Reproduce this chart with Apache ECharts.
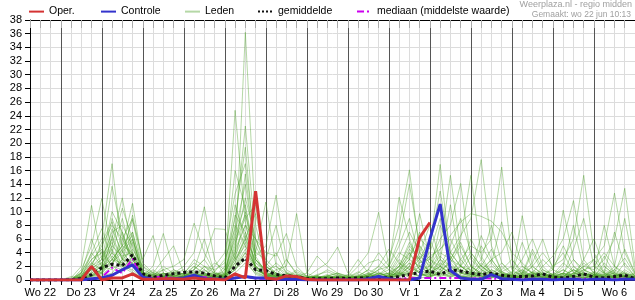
<!DOCTYPE html>
<html><head><meta charset="utf-8">
<script src="https://cdn.jsdelivr.net/npm/echarts@6/dist/echarts.min.js"></script>
<style>html,body{margin:0;padding:0;background:#fff}#c{width:635px;height:300px}</style>
</head><body><div id="c"></div>
<script>
// Days (label shown at noon), 6-hourly slots from Wo 22 06u to Do 7 00u
const dayLabels = ['Wo 22','Do 23','Vr 24','Za 25','Zo 26','Ma 27','Di 28','Wo 29','Do 30','Vr 1','Za 2','Zo 3','Ma 4','Di 5','Wo 6','Do 7'];
const slotHours = ['00u','06u','12u','18u'];
const yTicks = [0,38,2];

// Operationeel (ends Za 2 00u)
const oper = [0,0,0, 0,0,0,2.0, 0,0.3,0.3,0.9, 0.1,0.1,0.2,0.2, 0.1,0.3,0.1,0.1, 0,0.9,0.3,13.0, 0.3,0.1,0.6,0.5, 0.1,0,0,0, 0,0,0,0, 0,0,0,6.2, 8.4];
// Controle run
const controle = [0,0,0, 0,0,0,0.2, 0.3,0.7,1.5,2.2, 0.4,0.1,0.1,0.2, 0.3,0.7,0.2,0.1, 0.1,0.3,0.5,0.3, 0.3,0.1,0.1,0.1, 0,0,0,0, 0,0,0.2,0.5, 0.2,0,0,0.3, 6.0,11.1,1.4,0.3, 0.1,0.1,0.8,0.2, 0.1,0,0.1,0.1, 0,0.1,0.1,0, 0.1,0.1,0,0.1, 0.1];
// Gemiddelde
const gemiddelde = [0,0,0, 0,0.05,0.2,0.8, 1.8,2.3,2.1,3.7, 0.9,0.4,0.7,0.9, 1.1,1.2,1.0,0.6, 0.3,2.0,3.2,1.5, 1.4,0.8,0.6,0.5, 0.2,0.2,0.2,0.3, 0.2,0.3,0.3,0.4, 0.3,0.5,0.8,1.1, 1.3,0.8,1.5,1.3, 1.0,0.8,1.0,0.7, 0.5,0.5,0.6,0.9, 0.4,0.3,0.5,0.9, 0.4,0.3,0.5,0.7, 0.2];
// Mediaan
const mediaan = [0,0,0, 0,0,0,0.1, 0.4,1.8,1.0,3.1, 0.2,0.4,0.5,0.3, 0.3,0.4,0.4,0.2, 0.1,0.3,0.5,0.2, 0.2,0.1,0.1,0.1, 0,0.1,0,0.1, 0.1,0.1,0.1,0.1, 0.1,0.2,0.3,0.3, 0.3,0.3,0.3,0.3, 0.2,0.3,0.2,0.2, 0.1,0.2,0.2,0.2, 0.1,0.2,0.2,0.2, 0.1,0.2,0.2,0.2, 0.1];

// Ensemble leden
const lid01 = [0,0,0, 0,0,1.2,3.5, 6.0,17.0,4.2,2.0, 0.3,0,0.5,1.2, 0.8,2.0,1.0,0.2, 0,3.5,36.2,8.0, 2.0,1.0,0.3,0, 0,0,0.2,0.5, 0,0,0.3,1.0, 0.5,2.0,4.0,1.5, 0.6,3.0,2.0,0.5, 0.2,1.0,2.5,0.8, 0.3,0,0.5,1.2, 0.4,0.2,0.8,1.5, 0.3,0.5,2.0,1.0, 0.3];
const lid02 = [0,0,0, 0,0.3,2.0,10.9, 3.0,5.5,2.0,1.0, 0.2,0.5,1.0,0.3, 0.5,1.5,3.0,0.8, 1.2,24.8,8.5,1.5, 0.8,0.5,0.2,0.4, 0.1,0.3,0.8,0.2, 0.1,0.5,1.0,0.3, 0.2,1.5,3.5,6.0, 4.5,16.9,3.0,1.2, 0.8,2.2,0.6,0.3, 0.5,1.0,0.4,0.2, 0.8,2.5,1.2,0.4, 0.2,0.6,1.5,3.2, 0.8];
const lid03 = [0,0,0, 0,0,0.8,2.5, 4.0,13.7,6.5,3.0, 0.4,1.0,0.3,0.6, 1.0,0.5,2.0,1.5, 2.5,9.0,19.4,3.0, 1.5,2.0,0.6,0.3, 0.2,0.5,0.3,0.1, 0.4,1.2,0.5,0.8, 1.5,0.6,2.0,1.0, 0.3,1.5,4.0,6.5, 9.0,17.6,5.0,1.2, 0.6,0.3,0.2,1.0, 0.3,0.5,1.5,0.6, 1.0,0.4,0.2,0.6, 0.2];
const lid04 = [0,0,0, 0,0,1.5,5.0, 11.9,4.0,2.5,6.0, 1.0,0.3,0,0.4, 0.2,0.8,0.6,2.0, 4.0,12.6,17.0,5.0, 2.0,0.8,0.3,1.2, 0.5,0.2,0.1,0.3, 0.2,0.1,0.6,1.5, 3.0,8.0,16.1,4.0, 1.0,2.0,0.8,0.5, 1.0,0.4,0.8,2.0, 0.6,0.2,1.0,0.5, 0.2,0.8,0.3,1.0, 0.6,2.0,0.8,0.3, 0.4];
const lid05 = [0,0,0, 0,0.5,0.3,2.0, 3.5,6.0,12.0,4.0, 0.8,0.2,0.6,1.0, 2.0,4.0,10.7,3.0, 0.6,2.5,6.5,2.0, 0.8,0.4,0.2,0.1, 0.3,0.1,0.6,1.0, 0.2,0.3,0.1,0.5, 0.4,0.6,1.0,2.5, 3.0,5.0,15.3,4.0, 1.2,0.6,0.3,0.8, 0.5,1.5,0.4,0.2, 0.6,1.0,0.5,0.2, 0.8,0.3,1.2,0.5, 1.0];
const lid06 = [0,0,0, 0,0,0.6,1.0, 2.0,3.0,5.0,11.2, 2.0,0.5,0.2,0.3, 0.5,0.3,1.0,0.6, 0.8,4.5,8.0,3.5, 5.0,12.4,3.0,0.8, 0.3,0.6,0.2,0.4, 0.1,0.3,0.5,0.2, 0.6,1.0,2.5,1.0, 0.4,2.0,1.0,3.0, 5.0,4.0,6.0,16.5, 3.0,0.8,0.5,0.4, 0.3,0.6,1.5,0.8, 0.2,0.4,1.0,0.5, 0.2];
const lid07 = [0,0,0, 0,0,0.2,1.5, 1.0,2.5,4.0,8.8, 3.0,6.5,1.0,0.5, 0.3,0.6,0.2,0.5, 1.5,6.0,9.5,4.0, 11.4,2.0,1.0,0.5, 0.2,0.4,0.1,0.3, 0.5,0.2,0.8,1.2, 0.3,1.0,0.4,2.0, 1.5,4.0,3.0,6.0, 15.3,3.5,1.0,0.5, 0.2,0.5,1.2,0.3, 0.4,1.0,0.6,0.3, 0.5,1.0,0.4,0.6, 0.3];
const lid08 = [0,0,0, 0,0,0.4,0.8, 1.5,4.0,2.0,3.0, 0.6,2.0,6.8,1.5, 0.8,0.4,0.6,1.0, 0.5,3.0,6.0,9.7, 3.0,1.5,2.0,9.7, 1.0,0.3,0.5,0.2, 0.3,0.6,0.2,0.4, 0.8,2.0,5.0,3.0, 1.0,0.6,2.0,1.5, 0.8,1.2,3.0,1.0, 0.6,9.4,2.0,0.8, 0.4,0.3,0.6,1.5, 0.8,0.2,0.5,1.0, 0.4];
const lid09 = [0,0,0, 0,0,0,0.6, 0.8,2.0,1.5,2.5, 1.0,0.4,1.5,2.0, 3.0,8.3,4.0,1.2, 0.6,5.0,12.0,6.0, 2.5,1.0,0.4,0.2, 0.1,0.3,0.6,1.0, 0.5,2.0,4.0,9.9, 2.0,1.0,0.6,0.3, 0.5,1.2,0.6,2.0, 1.0,0.4,0.8,0.3, 0.2,0.6,1.0,3.0, 1.5,10.2,3.0,1.0, 0.5,0.8,0.3,0.2, 0.5];
const lid10 = [0,0,0, 0,0,0.2,0.5, 0.6,1.0,3.0,2.0, 0.4,0.2,0.8,1.2, 0.6,1.5,3.0,7.5, 7.4,3.0,5.0,2.0, 1.0,0.6,0.3,0.8, 0.4,1.5,2.5,4.8, 1.0,0.3,0.6,1.5, 2.0,12.1,6.0,2.0, 0.8,0.5,1.0,0.6, 0.3,2.0,1.0,0.5, 0.8,0.4,0.3,2.0, 3.5,6.0,11.6,3.0, 1.0,0.6,0.3,0.5, 0.2];
const lid11 = [0,0,0, 0,0,0.5,2.0, 3.0,7.0,8.0,5.0, 0.5,0.2,0.4,0.8, 0.4,0.6,1.5,0.6, 0.3,2.0,4.0,1.5, 0.8,0.6,3.0,1.0, 0.2,0.1,0.3,0.6, 0.3,0.5,0.2,0.8, 1.0,0.6,1.5,3.5, 2.0,1.0,0.5,0.8, 2.0,1.0,0.3,0.6, 1.2,0.8,2.0,4.0, 2.0,3.0,6.0,15.3, 4.0,1.0,0.6,0.4, 0.3];
const lid12 = [0,0,0, 0,0,1.0,4.0, 2.0,9.0,5.0,7.0, 1.5,0.8,0.3,0.2, 0.6,1.0,0.5,0.3, 0.8,6.5,11.0,3.0, 1.5,0.8,0.4,0.2, 0.3,0.2,0.5,0.1, 0.2,0.4,1.0,2.0, 0.8,3.0,1.5,4.0, 2.5,6.0,8.0,14.1, 3.0,1.5,0.6,0.3, 0.8,1.5,0.6,0.3, 0.2,0.5,1.0,2.0, 3.0,5.0,12.7,4.0, 1.0];
const lid13 = [0,0,0, 0,0,0.3,1.2, 2.5,5.0,3.5,4.0, 0.6,1.5,0.5,0.3, 0.2,0.5,2.0,1.0, 0.5,3.5,7.0,2.5, 1.0,2.5,1.2,0.5, 0.6,0.3,0.2,0.4, 0.3,0.6,1.5,0.8, 2.0,6.0,14.0,5.0, 1.5,0.8,0.4,1.0, 0.6,0.3,1.5,0.6, 0.3,0.6,0.3,1.0, 0.5,0.3,0.8,2.0, 1.5,3.0,6.0,13.4, 2.0];
const lid14 = [0,0,0, 0,0,0,0.8, 1.2,3.0,2.0,1.5, 0.3,0.8,1.0,0.6, 0.3,0.2,0.6,0.8, 1.0,4.0,8.0,6.0, 4.0,3.5,6.8,2.0, 0.5,0.2,0.4,0.3, 0.6,0.3,0.2,0.5, 0.3,1.5,3.0,2.0, 3.5,4.5,6.5,8.5, 9.7,9.3,8.6,7.0, 4.0,2.5,1.0,0.5, 0.8,0.4,0.6,1.0, 0.5,0.8,0.3,0.2, 0.6];
const lid15 = [0,0,0, 0,0,0.6,3.0, 4.5,2.0,6.0,3.0, 0.8,0.3,0.2,0.5, 1.0,2.5,1.5,0.4, 0.2,1.5,3.0,0.8, 0.4,0.6,0.2,0.1, 0.2,0.8,1.2,0.6, 0.4,1.0,2.5,3.0, 1.5,4.0,3.0,9.7, 3.0,2.0,1.0,0.5, 0.3,0.8,2.0,1.0, 0.5,0.3,1.2,0.8, 0.4,1.0,0.6,0.3, 0.6,1.5,0.8,0.4, 0.2];
const lid16 = [0,0,0, 0,0,0.2,0.6, 1.0,6.5,3.0,4.5, 2.0,1.0,3.0,5.0, 1.0,0.6,0.3,0.8, 0.4,2.0,5.5,2.0, 0.6,0.3,0.8,0.5, 0.3,0.6,0.2,0.3, 0.1,0.2,0.5,1.0, 0.6,0.8,2.0,1.0, 0.4,1.0,3.0,2.0, 1.5,0.6,0.4,1.2, 2.0,1.0,4.5,1.5, 0.6,0.3,1.0,2.5, 1.0,8.0,2.0,0.6, 0.4];
const lid17 = [0,0,0, 0,0,0.4,2.5, 1.5,3.5,2.0,5.5, 0.4,0.2,0.6,0.3, 0.5,1.2,0.8,0.5, 0.3,1.0,2.5,1.0, 0.5,0.8,0.3,0.6, 1.0,3.5,2.0,1.0, 0.6,0.3,0.8,0.4, 0.5,2.5,1.5,3.0, 6.0,2.0,3.5,1.0, 0.8,0.6,1.5,0.8, 0.3,0.6,2.0,0.8, 0.5,1.5,0.6,0.3, 0.8,0.4,0.6,1.0, 0.5];
const lid18 = [0,0,0, 0,0,0.1,1.0, 2.0,1.5,3.0,2.5, 0.6,0.4,0.2,0.6, 0.8,0.4,0.6,0.2, 0.5,2.5,6.0,3.0, 1.2,0.5,0.3,0.2, 0.1,0.2,0.6,0.3, 0.8,3.0,1.0,0.6, 0.3,0.5,1.0,0.6, 1.0,3.0,1.2,2.0, 4.0,2.0,1.0,0.6, 1.0,3.0,6.0,2.0, 0.6,0.4,0.3,0.6, 1.2,0.6,0.4,0.8, 0.3];
const lid19 = [0,0,0, 0,0,0.3,0.6, 1.5,2.5,4.5,6.5, 0.4,0.6,0.3,0.2, 0.3,0.2,0.5,0.3, 0.6,1.5,4.0,2.0, 0.8,0.4,0.6,0.3, 0.1,0.2,0.1,0.3, 0.2,0.4,0.6,0.3, 0.8,1.5,4.5,3.0, 5.0,13.0,4.0,2.0, 1.0,3.0,8.0,2.5, 0.8,0.4,0.6,0.3, 0.2,0.5,1.5,0.8, 0.4,0.3,0.6,1.2, 0.5];
const lid20 = [0,0,0, 0,0,0.8,1.8, 2.5,4.5,1.5,3.5, 0.5,0.3,0.8,0.4, 0.2,1.0,0.4,0.6, 0.3,3.0,10.0,1.5, 0.6,1.0,0.5,0.3, 0.4,0.6,0.3,0.8, 0.2,0.6,0.3,0.2, 0.4,0.8,1.2,0.6, 0.8,2.5,1.5,0.6, 0.4,1.5,3.0,4.0, 7.0,2.0,1.0,0.8, 1.5,5.0,2.0,1.0, 0.6,0.4,0.3,0.6, 0.2];
const lid21 = [0,0,0, 0,0,0.4,1.5, 3.0,10.0,7.0,2.0, 0.6,0.3,0.5,0.8, 0.4,0.3,0.8,0.4, 2.0,16.0,10.5,3.0, 1.0,0.5,0.8,0.3, 0.2,0.4,0.2,0.1, 0.3,0.2,0.4,0.6, 0.3,0.6,2.0,5.0, 3.0,1.5,0.8,0.4, 0.6,1.0,0.4,0.8, 0.3,0.5,0.8,0.4, 0.6,0.3,2.0,0.6, 0.3,0.8,0.5,0.3, 0.4];
const lid22 = [0,0,0, 0,0,0.2,2.2, 5.0,8.0,6.0,9.0, 1.2,0.6,0.3,1.0, 0.6,1.2,0.4,0.3, 1.0,7.0,14.0,4.0, 3.0,8.0,1.5,0.6, 0.3,0.1,0.4,0.2, 0.1,0.3,0.2,0.6, 1.0,2.0,1.0,0.5, 1.5,3.5,2.0,1.0, 0.5,2.5,1.2,0.4, 0.2,0.8,0.5,1.5, 0.8,0.3,0.6,0.4, 0.6,1.2,0.8,0.4, 0.3];
const lid23 = [0,0,0, 0,0,1.0,6.0, 2.0,4.0,9.0,3.5, 0.3,0.8,1.5,0.5, 0.3,0.6,1.0,0.5, 0.4,1.5,3.5,1.2, 0.5,1.5,0.4,0.2, 0.3,0.2,0.1,0.4, 0.2,0.5,0.3,0.2, 0.6,1.2,0.8,1.5, 0.8,1.2,2.5,5.0, 2.0,0.8,0.5,0.3, 0.6,1.2,0.4,0.6, 1.0,0.6,0.4,0.8, 0.3,0.5,1.5,0.6, 0.8];
const lid24 = [0,0,0, 0,0,0.3,0.8, 1.0,3.0,2.5,1.2, 0.2,0.4,0.6,0.3, 0.6,0.3,0.4,0.2, 0.3,2.0,4.5,1.8, 0.6,0.3,0.2,0.4, 0.2,0.3,0.5,0.2, 0.1,0.4,0.6,0.3, 0.2,0.8,2.5,1.0, 0.6,1.0,0.5,1.5, 0.8,0.4,1.0,0.6, 0.3,0.6,0.4,0.8, 0.4,1.0,3.0,1.5, 2.0,4.0,2.0,9.0, 1.2];
const lid25 = [0,0,0, 0,0,0.5,1.5, 2.0,7.5,4.0,6.0, 0.8,0.3,1.0,0.5, 0.4,1.5,6.0,1.0, 0.5,8.0,5.0,2.0, 0.6,0.3,1.0,0.4, 0.2,0.5,0.3,0.6, 0.3,0.5,1.5,4.0, 2.0,5.0,9.0,3.0, 1.0,8.0,4.0,2.0, 6.0,3.0,1.0,0.5, 0.4,1.0,2.5,6.0, 1.5,0.8,0.5,1.2, 3.0,1.0,7.0,2.0, 0.6];
const lid26 = [0,0,0, 0,0,0.2,4.0, 7.5,3.0,5.0,4.0, 0.5,0.8,0.3,0.2, 0.6,0.4,1.0,2.5, 1.5,11.0,6.0,1.5, 0.8,0.5,0.3,0.6, 0.4,0.2,0.6,0.3, 0.2,0.8,0.4,0.6, 1.0,3.5,7.0,4.0, 8.0,3.0,11.0,2.0, 1.0,5.0,2.5,8.5, 1.5,0.6,0.8,0.4, 2.0,4.0,1.0,0.8, 0.5,2.5,1.0,4.5, 1.0];
const lid27 = [0,0,0, 0,0,0.3,2.0, 1.0,5.0,10.5,6.0, 1.0,0.4,0.6,1.5, 0.8,3.0,2.0,0.6, 0.4,4.0,15.5,3.5, 1.0,0.8,0.5,0.2, 0.1,0.3,0.2,0.5, 0.6,0.4,0.3,1.0, 0.4,2.0,5.5,2.5, 4.0,9.0,3.0,5.5, 2.0,1.0,0.6,1.5, 3.0,1.2,0.5,0.8, 0.6,2.0,8.0,1.5, 0.8,0.5,0.3,1.5, 0.6];
const lid28 = [0,0,0, 0,0,0,0.5, 1.5,6.0,3.0,9.5, 2.5,1.0,0.5,0.3, 0.2,0.8,0.5,1.2, 3.0,7.5,22.5,6.0, 2.0,4.0,1.0,0.5, 0.2,0.1,0.3,0.2, 0.4,0.2,0.5,0.3, 0.6,1.2,3.0,7.0, 2.0,4.5,6.0,3.0, 1.2,6.5,3.0,1.0, 0.5,0.8,4.0,1.0, 0.4,0.3,1.0,0.6, 0.8,3.5,1.0,0.5, 0.3];
const lid29 = [0,0,0, 0,0.2,1.0,3.0, 4.0,2.0,7.0,3.0, 0.6,1.2,0.4,0.8, 1.5,0.6,0.3,0.5, 0.8,5.5,9.0,11.0, 2.0,1.0,0.6,0.3, 0.3,0.6,1.5,0.8, 0.2,0.4,0.6,2.0, 4.5,2.5,1.0,2.0, 1.0,2.0,5.0,9.0, 4.0,2.0,4.5,1.2, 0.6,2.0,1.0,0.4, 0.8,1.5,0.6,3.0, 6.0,2.0,0.8,0.6, 0.4];
const lid30 = [0,0,0, 0,0,0.6,2.0, 5.5,8.5,3.0,7.0, 1.2,0.6,2.0,1.0, 0.5,2.0,0.8,0.3, 0.6,9.5,7.0,2.5, 1.5,0.6,0.4,1.5, 0.6,0.2,0.1,0.3, 0.1,0.3,0.8,0.4, 0.6,1.0,4.0,1.5, 2.0,1.5,2.5,1.0, 3.5,1.5,0.8,2.5, 1.0,5.5,1.5,0.6, 0.3,0.8,4.5,9.0, 2.0,1.0,0.5,2.5, 0.5];
const leden = [lid01,lid02,lid03,lid04,lid05,lid06,lid07,lid08,lid09,lid10,lid11,lid12,lid13,lid14,lid15,lid16,lid17,lid18,lid19,lid20,lid21,lid22,lid23,lid24,lid25,lid26,lid27,lid28,lid29,lid30];

const categories = [];
for (let i = 0; i < 60; i++) { const k = i + 1; categories.push(dayLabels[Math.floor(k / 4)] + ' ' + slotHours[k % 4]); }

const FONT = "'Liberation Sans', Arial, sans-serif";
const chart = echarts.init(document.getElementById('c'), null, {renderer: 'canvas'});

const GREEN = 'rgba(70,158,32,0.4)';
const series = [];
leden.forEach(function (d) {
  series.push({ name: 'Leden', type: 'line', data: d, symbol: 'none', silent: true,
    lineStyle: { width: 1, color: GREEN }, itemStyle: { color: GREEN } });
});
series.push({ name: 'mediaan (middelste waarde)', type: 'line', data: mediaan, symbol: 'none', silent: true,
  lineStyle: { width: 2, color: '#cc00ee', type: [7, 3, 2, 3] }, itemStyle: { color: '#cc00ee' } });
series.push({ name: 'gemiddelde', type: 'line', data: gemiddelde, symbol: 'none', silent: true,
  lineStyle: { width: 3, color: '#111', type: 'dotted' }, itemStyle: { color: '#111' } });
series.push({ name: 'Controle', type: 'line', data: controle, symbol: 'none', silent: true,
  lineStyle: { width: 3, color: '#3333cc' }, itemStyle: { color: '#3333cc' } });
series.push({ name: 'Oper.', type: 'line', data: oper, symbol: 'none', silent: true,
  lineStyle: { width: 3, color: '#d43333' }, itemStyle: { color: '#d43333' } });

function lg(name, left) {
  return { data: [name], left: left, top: 6, itemWidth: 15, itemHeight: 14, itemGap: 0, selectedMode: false,
    padding: 0, itemStyle: { opacity: 0 }, textStyle: { fontSize: 10.5, color: '#000', fontFamily: FONT } };
}

chart.setOption({
  animation: false,
  backgroundColor: '#fff',
  grid: { left: 30, right: 0, top: 20, bottom: 20, containLabel: false },
  legend: [lg('Oper.', 28), lg('Controle', 100), lg('Leden', 184), lg('gemiddelde', 257), lg('mediaan (middelste waarde)', 356)],
  graphic: [
    { type: 'text', right: 3, top: 0, style: { text: 'Weerplaza.nl - regio midden', fill: '#a0a0a0', font: '9px ' + FONT } },
    { type: 'text', right: 4, top: 10, style: { text: 'Gemaakt: wo 22 jun 10:13', fill: '#a0a0a0', font: '8.5px ' + FONT } }
  ],
  xAxis: [
    { type: 'category', data: categories, boundaryGap: false, position: 'bottom',
      axisLine: { lineStyle: { color: '#000', width: 1 } },
      axisTick: { show: true, interval: 0, length: 5, lineStyle: { color: '#000' } },
      axisLabel: { interval: function (i) { return i % 4 === 1; }, margin: 7, fontSize: 11, color: '#000', fontFamily: FONT,
        formatter: function (v) { return v.split(' ').slice(0, 2).join(' '); } },
      splitLine: { show: true, interval: function (i) { return i % 4 !== 3; }, lineStyle: { color: '#dcdcdc', width: 1 } } },
    { type: 'category', data: categories, boundaryGap: false, position: 'top',
      axisLine: { lineStyle: { color: '#000', width: 1 } },
      axisTick: { show: true, inside: true, interval: 0, length: 8, lineStyle: { color: '#aaa' } },
      axisLabel: { show: false },
      splitLine: { show: true, interval: function (i) { return i % 4 === 3; }, lineStyle: { color: '#555', width: 1 } } }
  ],
  yAxis: { type: 'value', min: yTicks[0], max: yTicks[1], interval: yTicks[2],
    axisLine: { show: true, lineStyle: { color: '#000' } },
    axisTick: { show: true, length: 5, lineStyle: { color: '#000' } },
    axisLabel: { margin: 8, fontSize: 11, color: '#000', fontFamily: FONT },
    splitLine: { show: true, lineStyle: { color: '#dcdcdc', width: 1 } } },
  series: series
});
</script></body></html>
